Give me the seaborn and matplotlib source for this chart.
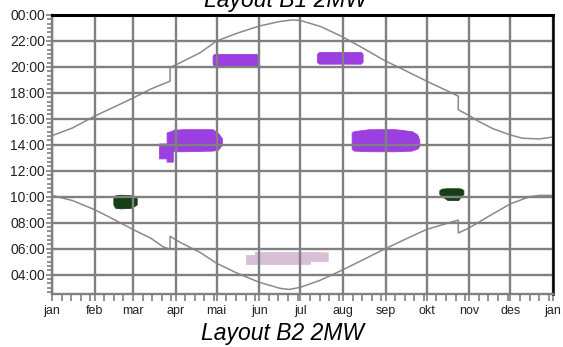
import numpy as np
import pandas as pd
import matplotlib
matplotlib.use("Agg")
import matplotlib.pyplot as plt
import seaborn as sns

# ---- data -------------------------------------------------------------
month_labels = ["jan", "feb", "mar", "apr", "mai", "jun", "jul", "aug",
                "sep", "okt", "nov", "des", "jan"]
month_starts = [0, 31, 59, 90, 120, 151, 181, 212, 243, 273, 304, 334, 365]

# sunset (upper curve), local clock time in hours, day of year
sunset_day = [0, 15, 31, 45, 59, 72, 86, 86, 93, 108, 120, 135, 151, 166,
              175, 181, 196, 212, 224, 243, 252, 273, 296, 296, 304, 310,
              321, 334, 343, 355, 365]
sunset_hour = [14.7, 15.3, 16.2, 16.9, 17.6, 18.3, 18.9, 19.95, 20.3, 21.1,
               22.0, 22.6, 23.15, 23.5, 23.62, 23.58, 23.1, 22.3, 21.6,
               20.45, 20.0, 18.9, 17.75, 16.7, 16.25, 15.85, 15.25, 14.75,
               14.5, 14.45, 14.6]

# sunrise (lower curve)
sunrise_day = [0, 15, 31, 45, 59, 72, 81, 86, 86, 93, 108, 120, 135, 151,
               166, 173, 181, 195, 212, 224, 243, 258, 273, 296, 296, 304,
               320, 334, 348, 355, 365]
sunrise_hour = [10.1, 9.7, 9.0, 8.25, 7.47, 6.8, 6.13, 5.95, 6.95, 6.5, 5.7,
                4.86, 4.1, 3.4, 2.94, 2.85, 3.02, 3.54, 4.37, 5.0, 6.0, 6.75,
                7.48, 8.2, 7.2, 7.6, 8.6, 9.45, 10.0, 10.1, 10.1]

# shadow periods: day of year with lower / upper clock time
p1_day = [117, 118, 149, 150]
p1_low = [20.25, 20.08, 20.08, 20.2]
p1_high = [20.85, 21.0, 21.0, 20.85]

p2_day = [193, 194.5, 225, 226.3]
p2_low = [20.4, 20.25, 20.25, 20.4]
p2_high = [21.0, 21.15, 21.15, 21.0]

p3_day = [78, 83.5, 83.5, 88, 88, 95, 117, 121, 123.8]
p3_low = [12.95, 12.95, 12.7, 12.7, 13.5, 13.5, 13.55, 13.63, 14.0]
p3_high = [14.1, 14.1, 14.95, 15.1, 15.15, 15.2, 15.2, 14.9, 14.5]

p4_day = [218.3, 220, 231, 250, 262, 266, 267.6]
p4_low = [13.7, 13.55, 13.5, 13.5, 13.55, 13.7, 13.9]
p4_high = [14.95, 15.05, 15.2, 15.2, 15.05, 14.8, 14.4]

p5_day = [44.7, 46, 50, 58, 61.7]
p5_low = [9.4, 9.15, 9.1, 9.15, 9.4]
p5_high = [9.9, 10.1, 10.15, 10.1, 9.9]

p6_day = [282.2, 284, 288, 296, 298, 299.7]
p6_low = [10.2, 10.05, 9.75, 9.75, 10.05, 10.2]
p6_high = [10.5, 10.62, 10.65, 10.65, 10.62, 10.5]

p7_day = [141.3, 147.9, 147.9, 188, 188, 200.9]
p7_low = [4.82, 4.82, 4.82, 4.82, 5.03, 5.03]
p7_high = [5.5, 5.5, 5.75, 5.75, 5.75, 5.7]

# ---- styling ----------------------------------------------------------
sns.set_style("white")
plt.rcParams["font.family"] = ["Liberation Sans", "DejaVu Sans"]

GRID = "#808080"
PURPLE = "#9c3fe0"
GREEN = "#173f17"
PINK = "#d9bfd6"

fig = plt.figure(figsize=(5.63, 3.47), dpi=100)
ax = fig.add_axes([52 / 563, 53 / 347, 501 / 563, 279 / 347])

curves = pd.concat([
    pd.DataFrame({"day": sunset_day, "hour": sunset_hour, "curve": "sunset"}),
    pd.DataFrame({"day": sunrise_day, "hour": sunrise_hour, "curve": "sunrise"}),
], ignore_index=True)

sns.lineplot(data=curves, x="day", y="hour", units="curve", estimator=None,
             sort=False, color="#8a8a8a", linewidth=1.1, ax=ax, legend=False)

patches = [
    (p1_day, p1_low, p1_high, PURPLE),
    (p2_day, p2_low, p2_high, PURPLE),
    (p3_day, p3_low, p3_high, PURPLE),
    (p4_day, p4_low, p4_high, PURPLE),
    (p5_day, p5_low, p5_high, GREEN),
    (p6_day, p6_low, p6_high, GREEN),
    (p7_day, p7_low, p7_high, PINK),
]
for d, lo, hi, c in patches:
    ax.fill_between(d, lo, hi, color=c, linewidth=0.6, edgecolor=c, zorder=1)

ax.set_xlim(0, 365)
ax.set_ylim(2.5, 24)

# axes ticks
ax.set_xticks(month_starts)
ax.set_xticklabels(month_labels)
week_ticks = []
for a, b in zip(month_starts[:-1], month_starts[1:]):
    week_ticks += [a + k for k in (7, 14, 21, 28) if a + k < b - 1]
ax.set_xticks(week_ticks, minor=True)

hour_ticks = list(range(4, 25, 2))
ax.set_yticks(hour_ticks)
ax.set_yticklabels([f"{h % 24:02d}:00" for h in hour_ticks])
ax.set_yticks([m / 3 for m in range(8, 72) if m % 6 != 0], minor=True)

ax.tick_params(axis="y", which="major", length=4.5, width=1.2, color=GRID,
               pad=0.5, labelsize=10, labelcolor="#222222", left=True)
ax.tick_params(axis="y", which="minor", length=3.5, width=1.2, color=GRID,
               left=True)
ax.tick_params(axis="x", which="major", length=5, width=1.2, color=GRID,
               pad=3, labelsize=9, labelcolor="#222222", bottom=True)
ax.tick_params(axis="x", which="minor", length=5, width=1.2, color=GRID,
               bottom=True)

ax.set_axisbelow(False)
ax.grid(True, which="major", color=GRID, linewidth=1.7)
ax.set_xlabel("")
ax.set_ylabel("")

for side in ("left", "bottom"):
    ax.spines[side].set_color(GRID)
    ax.spines[side].set_linewidth(1.7)
ax.spines["top"].set_color("black")
ax.spines["top"].set_linewidth(2.2)
ax.spines["right"].set_color("black")
ax.spines["right"].set_linewidth(1.8)
for s in ax.spines.values():
    s.set_zorder(4)
    s.set_visible(True)

fig.text(285 / 563, 1 - 7.5 / 347, "Layout B1 2MW", ha="center",
         va="baseline", fontsize=16.5, style="italic", color="black")
fig.text(283 / 563, 1 - 340 / 347, "Layout B2 2MW", ha="center",
         va="baseline", fontsize=16.5, style="italic", color="black")

fig.savefig("out.png", dpi=100)
